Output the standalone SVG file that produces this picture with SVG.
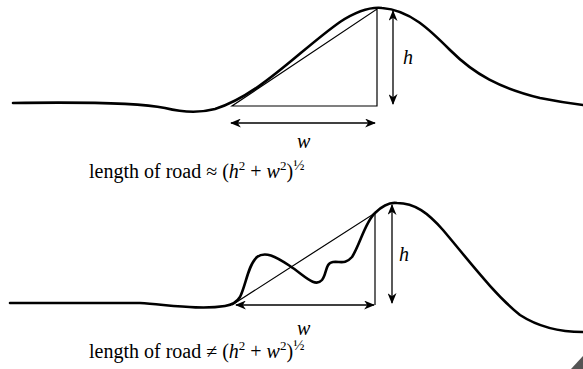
<svg xmlns="http://www.w3.org/2000/svg" width="583" height="369" viewBox="0 0 583 369">
<style>
.road{fill:none;stroke:#000;stroke-width:2.6;stroke-linecap:round;stroke-linejoin:round}
.thin{fill:none;stroke:#000;stroke-width:1.2}
.arrow{fill:none;stroke:#000;stroke-width:1.3;marker-start:url(#ah);marker-end:url(#ah)}
.lbl{font-family:"Liberation Serif","Times New Roman",serif;font-size:20px;fill:#000}
.it{font-style:italic}
</style>
<defs>
<marker id="ah" viewBox="0 0 12 10" refX="11" refY="5" markerWidth="12" markerHeight="9" markerUnits="userSpaceOnUse" orient="auto-start-reverse">
<path d="M0,0 L12,5 L0,10 L3.5,5 z" fill="#000"/>
</marker>
</defs>
<g id="top-panel">
<path class="road" d="M13,103 C80,102 140,103 165,108 C185,113 200,113 215,109 C260,95 300,50 340,22 C360,9 372,7 382,8 C410,10 430,30 450,50 C475,75 500,88 540,98 C560,102 575,104 583,105"/>
<path class="thin" d="M232,106 L377,106 L377,9 Z"/>
<line class="arrow" x1="393" y1="11" x2="393" y2="104"/>
<line class="arrow" x1="231" y1="123" x2="375" y2="123"/>
<text class="lbl it" x="403" y="64">h</text>
<text class="lbl it" x="297" y="148">w</text>
<text class="lbl" x="89" y="178">length of road ≈ (<tspan class="it">h</tspan><tspan font-size="13" dy="-8">2</tspan><tspan dy="8"> + </tspan><tspan class="it">w</tspan><tspan font-size="13" dy="-8">2</tspan><tspan dy="8">)</tspan><tspan font-size="15" dy="-8">½</tspan></text>
</g>
<g id="bottom-panel">
<path class="road" d="M10,303 L140,303 C170,305 200,310 225,306 C232,305 237,302 240,297 C246,285 248,265 257,257 C265,251 275,256 290,266 C305,276 315,288 322,280 C327,274 325,263 333,262 C340,261 345,265 352,257 C360,245 365,222 375,213 C382,206 390,202 397,203 C415,203 428,213 443,230 C470,262 495,295 520,315 C540,328 560,332 583,332"/>
<path class="thin" d="M232,305 L375,213 L375,305"/>
<line class="arrow" x1="236" y1="305" x2="374" y2="305"/>
<line class="arrow" x1="392" y1="205" x2="392" y2="303"/>
<text class="lbl it" x="399" y="261">h</text>
<text class="lbl it" x="297" y="335">w</text>
<text class="lbl" x="89" y="358">length of road ≠ (<tspan class="it">h</tspan><tspan font-size="13" dy="-8">2</tspan><tspan dy="8"> + </tspan><tspan class="it">w</tspan><tspan font-size="13" dy="-8">2</tspan><tspan dy="8">)</tspan><tspan font-size="15" dy="-8">½</tspan></text>
</g>
<polygon points="571,369 583,356 583,369" fill="#555"/>
</svg>
